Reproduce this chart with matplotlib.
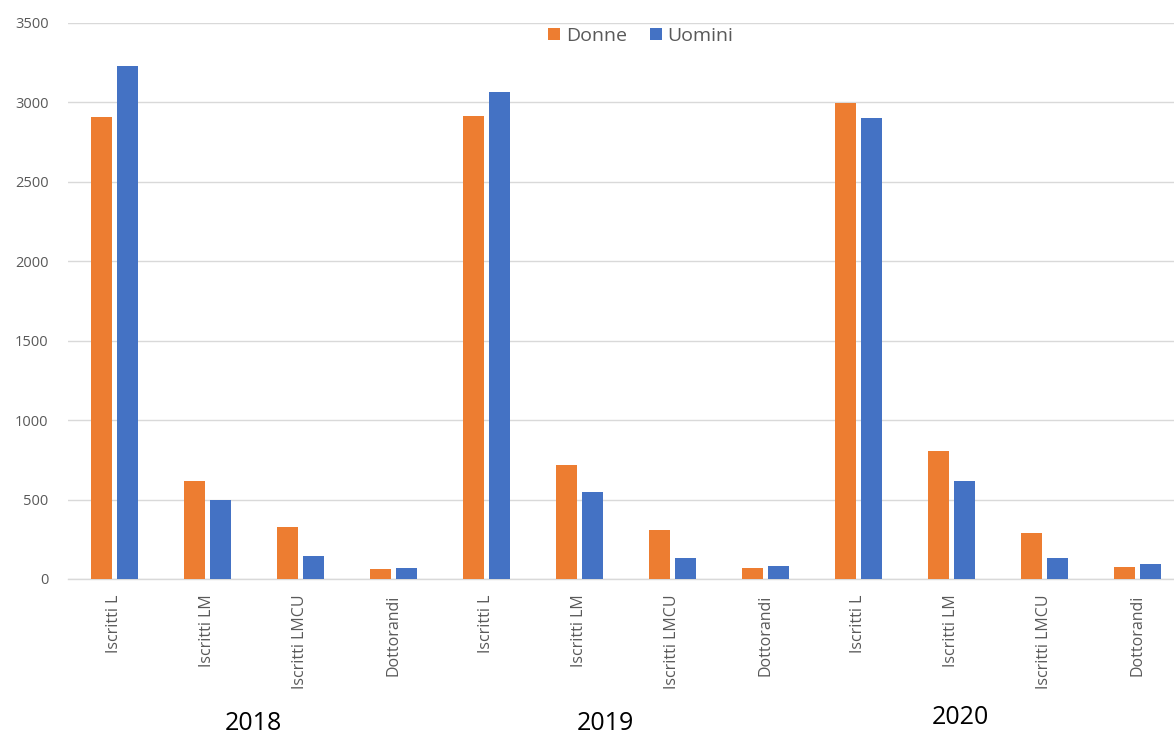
import matplotlib
matplotlib.use("Agg")
import matplotlib.pyplot as plt
import numpy as np

# Enrolment counts by gender, three academic years
years = ["2018", "2019", "2020"]
categories = ["Iscritti L", "Iscritti LM", "Iscritti LMCU", "Dottorandi"]
donne = [2905, 618, 325, 62,
         2914, 718, 310, 69,
         2992, 808, 288, 75]
uomini = [3230, 497, 145, 70,
          3062, 548, 133, 80,
          2900, 618, 133, 94]
series_names = ["Donne", "Uomini"]
colors = ["#ED7D31", "#4472C4"]

W, H = 1174, 735
fig = plt.figure(figsize=(W / 100, H / 100), dpi=100)
plt.rcParams["font.family"] = ["Open Sans", "DejaVu Sans"]

left_px, right_px, top_px, bottom_px = 68, 1183.5, 22.7, 579
ax = fig.add_axes([left_px / W, (H - bottom_px) / H,
                   (right_px - left_px) / W, (bottom_px - top_px) / H])

labels = categories * len(years)
x = np.arange(len(labels))
bw = 0.226
off = 0.14
ax.bar(x - off, donne, width=bw, color=colors[0], label=series_names[0], zorder=3)
ax.bar(x + off, uomini, width=bw, color=colors[1], label=series_names[1], zorder=3)

ax.set_xlim(-0.5, len(labels) - 0.5)
ax.set_ylim(0, 3500)
ax.set_yticks(np.arange(0, 3501, 500))
ax.yaxis.grid(True, color="#D9D9D9", linewidth=1.0, zorder=0)
ax.set_axisbelow(True)
for side in ["top", "right", "left"]:
    ax.spines[side].set_visible(False)
ax.spines["bottom"].set_color("#D9D9D9")
ax.spines["bottom"].set_linewidth(1.0)

ax.set_xticks(x)
ax.set_xticklabels(labels, rotation=90, fontsize=11.5, color="#595959")
ax.tick_params(axis="x", length=0, pad=11)
ax.tick_params(axis="y", length=0, pad=14, labelsize=10.5, labelcolor="#595959")

leg = fig.legend(loc="center", bbox_to_anchor=(641 / W, 1 - 36 / H), ncol=2,
                 frameon=False, fontsize=14, handlelength=0.6, handleheight=0.6,
                 handletextpad=0.3, columnspacing=1.2, labelcolor="#595959")

# Year captions under each group of categories
year_pos = [(253, 724), (605, 724), (960, 718)]
for yr, (px, py) in zip(years, year_pos):
    fig.text(px / W, 1 - py / H, yr, ha="center", va="center",
             fontsize=18, color="#000000")

fig.savefig("out.png", dpi=100, facecolor="white")
